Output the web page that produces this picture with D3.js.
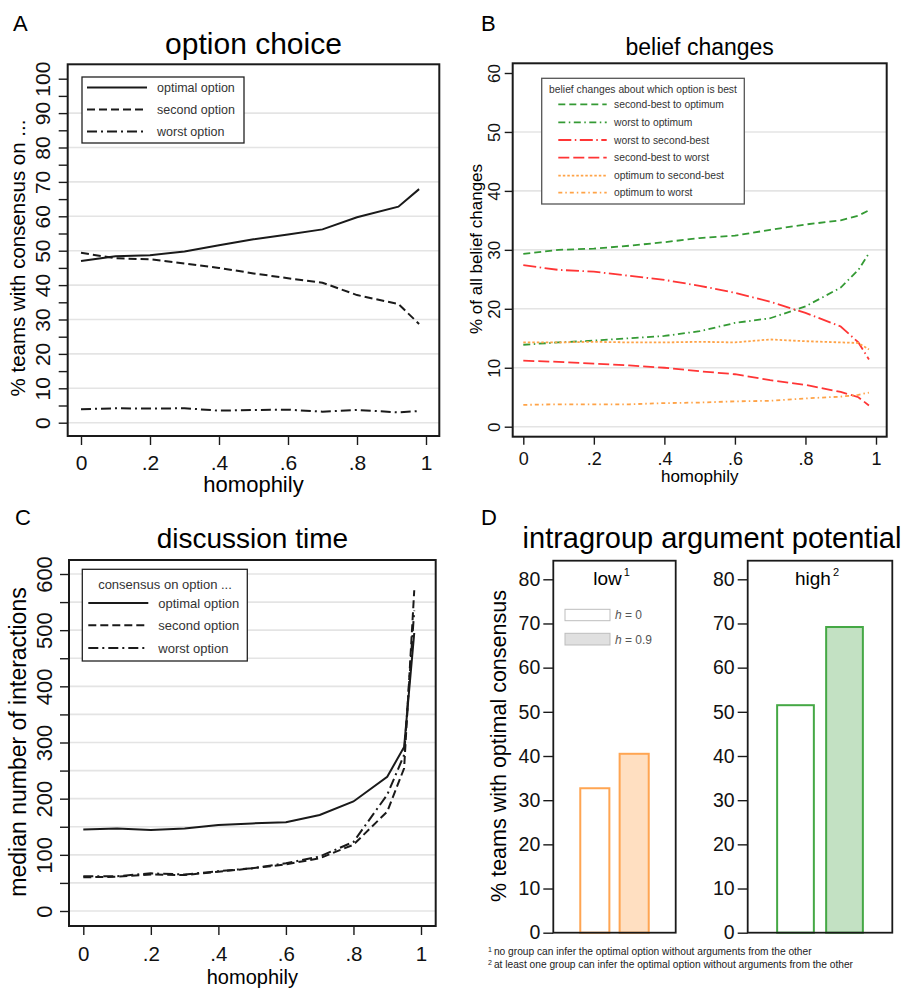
<!DOCTYPE html>
<html><head><meta charset="utf-8">
<script src="https://cdn.jsdelivr.net/npm/d3@7"></script>
<style>body{margin:0;background:#fff} text{font-family:"Liberation Sans",Arial,sans-serif}</style>
</head><body><svg id="c" width="907" height="989"></svg>
<script>
// ---------- data ----------
const xA = [0, .1, .2, .3, .4, .5, .6, .7, .8, .92, .98];
const optimalA = [47.0, 48.4, 48.7, 49.8, 51.6, 53.3, 54.7, 56.2, 59.7, 62.8, 67.9];
const secondA  = [49.4, 47.8, 47.5, 46.3, 45.0, 43.4, 42.0, 40.7, 37.1, 34.5, 28.7];
const worstA   = [3.9, 4.2, 4.1, 4.2, 3.5, 3.7, 3.8, 3.2, 3.7, 3.0, 3.4];

const xB = [0, .1, .2, .3, .4, .5, .6, .7, .8, .9, .95, .98];
const secondToOptimum = [29.3, 30.0, 30.2, 30.7, 31.3, 32.0, 32.4, 33.4, 34.3, 35.0, 35.8, 36.7];
const worstToOptimum  = [13.9, 14.3, 14.6, 15.0, 15.4, 16.2, 17.6, 18.4, 20.4, 23.6, 26.6, 29.4];
const worstToSecond   = [27.4, 26.6, 26.3, 25.6, 24.9, 23.9, 22.7, 21.2, 19.3, 17.0, 14.3, 11.4];
const secondToWorst   = [11.2, 11.0, 10.7, 10.4, 10.0, 9.4, 8.9, 7.9, 7.1, 5.9, 5.0, 3.6];
const optimumToSecond = [14.3, 14.3, 14.4, 14.3, 14.3, 14.4, 14.3, 14.8, 14.5, 14.3, 14.2, 13.1];
const optimumToWorst  = [3.7, 3.8, 3.8, 3.8, 4.0, 4.1, 4.3, 4.4, 4.8, 5.1, 5.4, 5.8];

const xC = [0, .1, .2, .3, .4, .5, .6, .7, .8, .9, .95, .98];
const optimalC = [145, 147, 144, 147, 153, 156, 158, 171, 195, 239, 292, 495];
const secondC  = [60, 61, 65, 64, 70, 76, 83, 94, 118, 177, 254, 571];
const worstC   = [62, 62, 67, 65, 71, 76, 85, 97, 123, 207, 278, 535];

const potentialGroups = ["low", "high"];
const hLevels = ["h = 0", "h = 0.9"];
const lowValues  = [32.7, 40.5];
const highValues = [51.5, 69.2];

const xTickLabels = ["0", ".2", ".4", ".6", ".8", "1"];
const footnotes = ["no group can infer the optimal option without arguments from the other",
                   "at least one group can infer the optimal option without arguments from the other"];

// ---------- helpers ----------
const svg = d3.select("#c");
const FRAME = "#1a1a1a";
const GRID = "#e4e4e4";

function linePanel(o) {
  const g = svg.append("g");
  const x = d3.scaleLinear().domain([0, 1]).range(o.xr);
  const y = d3.scaleLinear().domain(o.yd).range(o.yr);
  g.selectAll(".grid").data(o.grid).enter().append("line")
    .attr("x1", o.f[0]).attr("x2", o.f[2])
    .attr("y1", d => y(d)).attr("y2", d => y(d))
    .attr("stroke", GRID).attr("stroke-width", 1.6);
  const ya = g.append("g").attr("transform", `translate(${o.f[0]},0)`)
    .call(d3.axisLeft(y).tickValues(o.yTicks).tickSize(o.tl)
      .tickFormat(d => o.yLab.includes(d) ? d : ""));
  ya.select(".domain").remove();
  ya.selectAll("line").attr("stroke", FRAME).attr("stroke-width", 1.4);
  ya.selectAll("text").attr("transform", "rotate(-90)")
    .attr("x", 0).attr("y", -o.yGap).attr("dy", 0)
    .attr("text-anchor", "middle").attr("fill", "#111")
    .style("font-size", o.yfs + "px").style("font-family", '"Liberation Sans",Arial,sans-serif');
  const xa = g.append("g").attr("transform", `translate(0,${o.f[3]})`)
    .call(d3.axisBottom(x).tickValues([0, .2, .4, .6, .8, 1]).tickSize(o.tl)
      .tickFormat((d, i) => xTickLabels[i]));
  xa.select(".domain").remove();
  xa.selectAll("line").attr("stroke", FRAME).attr("stroke-width", 1.4);
  xa.selectAll("text").attr("y", o.xGap).attr("dy", 0).attr("fill", "#111")
    .style("font-size", o.xfs + "px").style("font-family", '"Liberation Sans",Arial,sans-serif');
  const line = d3.line().x(d => x(d[0])).y(d => y(d[1]));
  o.series.forEach(s => {
    g.append("path").datum(o.xs.map((v, i) => [v, s.v[i]]))
      .attr("d", line).attr("fill", "none").attr("stroke", s.c)
      .attr("stroke-width", s.w || 2).attr("stroke-dasharray", s.dash || null);
  });
  g.append("rect").attr("x", o.f[0]).attr("y", o.f[1])
    .attr("width", o.f[2] - o.f[0]).attr("height", o.f[3] - o.f[1])
    .attr("fill", "none").attr("stroke", FRAME).attr("stroke-width", 2);
  svg.append("text").attr("x", (o.f[0] + o.f[2]) / 2).attr("y", o.titleY)
    .attr("text-anchor", "middle").style("font-size", o.tfs + "px").text(o.title);
  svg.append("text").attr("x", (o.f[0] + o.f[2]) / 2).attr("y", o.hY)
    .attr("text-anchor", "middle").style("font-size", o.hfs + "px").text("homophily");
  svg.append("text").attr("transform", `translate(${o.ylx},${o.yly}) rotate(-90)`)
    .attr("text-anchor", "middle").style("font-size", o.ylfs + "px").text(o.ylabel);
  svg.append("text").attr("x", o.letter[0]).attr("y", o.letter[1])
    .style("font-size", "22px").text(o.letter[2]);
  return {g, x, y};
}

function legendRow(g, x1, x2, tx, y, s, fs, col) {
  g.append("line").attr("x1", x1).attr("x2", x2).attr("y1", y).attr("y2", y)
    .attr("stroke", s.c).attr("stroke-width", s.w || 2).attr("stroke-dasharray", s.dash || null);
  g.append("text").attr("x", tx).attr("y", y).attr("dy", "0.35em")
    .style("font-size", fs + "px").attr("fill", col).text(s.name);
}

// ---------- Panel A ----------
const seriesA = [
  {name: "optimal option", v: optimalA, c: "#1a1a1a"},
  {name: "second option", v: secondA, c: "#1a1a1a", dash: "8,4"},
  {name: "worst option", v: worstA, c: "#1a1a1a", dash: "10,4,2,4"}
];
linePanel({
  f: [67.7, 64.3, 439.3, 436], xr: [81, 426], yd: [0, 100], yr: [422.7, 78.7],
  grid: d3.range(0, 100, 10), yTicks: d3.range(0, 101, 5), yLab: d3.range(0, 101, 10),
  tl: 9, yGap: 17.5, xGap: 34, yfs: 21, xfs: 21, xs: xA, series: seriesA,
  title: "option choice", titleY: 54, tfs: 30, hY: 492, hfs: 22,
  ylabel: "% teams with consensus on ...", ylx: 25, yly: 258, ylfs: 20.5, letter: [13, 31, "A"]
});
{
  const lg = svg.append("g");
  lg.append("rect").attr("x", 82).attr("y", 77).attr("width", 162).attr("height", 66)
    .attr("fill", "#fff").attr("stroke", "#222").attr("stroke-width", 1.3);
  seriesA.forEach((s, i) => legendRow(lg, 87, 147, 157, 87.5 + i * 22, s, 12.5, "#333"));
}

// ---------- Panel B ----------
const GREEN = "#349a34", RED = "#ff3535", ORANGE = "#ffa347";
const seriesB = [
  {name: "second-best to optimum", v: secondToOptimum, c: GREEN, dash: "7,4", w: 1.8},
  {name: "worst to optimum", v: worstToOptimum, c: GREEN, dash: "7,3.5,1.5,3.5", w: 1.8},
  {name: "worst to second-best", v: worstToSecond, c: RED, dash: "13,3.5,1.5,3.5", w: 1.8},
  {name: "second-best to worst", v: secondToWorst, c: RED, dash: "11,4", w: 1.8},
  {name: "optimum to second-best", v: optimumToSecond, c: ORANGE, dash: "2.5,2", w: 1.8},
  {name: "optimum to worst", v: optimumToWorst, c: ORANGE, dash: "4,3,1.5,3", w: 1.8}
];
linePanel({
  f: [512.7, 63.3, 886.7, 436.7], xr: [523.3, 876], yd: [0, 60], yr: [426.7, 73],
  grid: d3.range(0, 60, 10), yTicks: d3.range(0, 61, 10), yLab: d3.range(0, 61, 10),
  tl: 8, yGap: 12.5, xGap: 28, yfs: 17, xfs: 18, xs: xB, series: seriesB,
  title: "belief changes", titleY: 55, tfs: 23, hY: 482, hfs: 17,
  ylabel: "% of all belief changes", ylx: 482, yly: 249, ylfs: 17, letter: [481, 31, "B"]
});
{
  const lg = svg.append("g");
  lg.append("rect").attr("x", 541.7).attr("y", 78.3).attr("width", 202.6).attr("height", 125.7)
    .attr("fill", "#fff").attr("stroke", "#555").attr("stroke-width", 1.3);
  lg.append("text").attr("x", 643).attr("y", 89).attr("dy", "0.35em").attr("text-anchor", "middle")
    .style("font-size", "10.3px").attr("fill", "#333").text("belief changes about which option is best");
  const ys = [104.3, 122.3, 140, 157.7, 175.7, 192.7];
  seriesB.forEach((s, i) => legendRow(lg, 558.3, 606.7, 614, ys[i], s, 10.3, "#333"));
}

// ---------- Panel C ----------
const seriesC = [
  {name: "optimal option", v: optimalC, c: "#1a1a1a"},
  {name: "second option", v: secondC, c: "#1a1a1a", dash: "8,4"},
  {name: "worst option", v: worstC, c: "#1a1a1a", dash: "10,4,2,4"}
];
linePanel({
  f: [69, 560, 435.7, 926], xr: [83.3, 421], yd: [0, 600], yr: [911, 574],
  grid: d3.range(0, 601, 50), yTicks: d3.range(0, 601, 50), yLab: d3.range(0, 601, 100),
  tl: 9, yGap: 17.5, xGap: 34.5, yfs: 22, xfs: 20.5, xs: xC, series: seriesC,
  title: "discussion time", titleY: 548, tfs: 28, hY: 984, hfs: 20,
  ylabel: "median number of interactions", ylx: 26, yly: 742, ylfs: 23, letter: [15, 525, "C"]
});
{
  const lg = svg.append("g");
  lg.append("rect").attr("x", 82.3).attr("y", 569.3).attr("width", 165).attr("height", 91.7)
    .attr("fill", "#fff").attr("stroke", "#222").attr("stroke-width", 1.3);
  lg.append("text").attr("x", 165).attr("y", 584).attr("dy", "0.35em").attr("text-anchor", "middle")
    .style("font-size", "13px").attr("fill", "#333").text("consensus on option ...");
  const ys = [603, 625.3, 648];
  seriesC.forEach((s, i) => legendRow(lg, 88.3, 148.3, 158.3, ys[i], s, 13, "#333"));
}

// ---------- Panel D ----------
const yD = d3.scaleLinear().domain([0, 80]).range([932.7, 579.3]);
const subpanels = [
  {name: potentialGroups[0], sup: "1", vals: lowValues, f: [553.3, 560.7, 675.7, 932.7],
   stroke: "#ffa552", fill: "#ffdfc1"},
  {name: potentialGroups[1], sup: "2", vals: highValues, f: [747.7, 560.7, 892.3, 932.7],
   stroke: "#45a845", fill: "#c3e1c3"}
];
subpanels.forEach((p, k) => {
  const g = svg.append("g");
  const xb = d3.scaleBand().domain(hLevels).range([p.f[0], p.f[2]])
    .paddingInner(0.21).paddingOuter(k === 0 ? 0.66 : 0.58);
  g.selectAll("rect.bar").data(hLevels).enter().append("rect")
    .attr("x", d => xb(d) + 1).attr("width", xb.bandwidth() - 2)
    .attr("y", (d, i) => yD(p.vals[i])).attr("height", (d, i) => yD(0) - yD(p.vals[i]))
    .attr("fill", (d, i) => i === 0 ? "#fff" : p.fill)
    .attr("stroke", p.stroke).attr("stroke-width", 2);
  const ya = g.append("g").attr("transform", `translate(${p.f[0]},0)`)
    .call(d3.axisLeft(yD).tickValues(d3.range(0, 81, 10)).tickSize(10).tickPadding(3));
  ya.select(".domain").remove();
  ya.selectAll("line").attr("stroke", FRAME).attr("stroke-width", 1.4);
  ya.selectAll("text").attr("fill", "#111").style("font-size", "19.5px")
    .style("font-family", '"Liberation Sans",Arial,sans-serif');
  g.append("rect").attr("x", p.f[0]).attr("y", p.f[1])
    .attr("width", p.f[2] - p.f[0]).attr("height", p.f[3] - p.f[1])
    .attr("fill", "none").attr("stroke", FRAME).attr("stroke-width", 1.8);
  const t = g.append("text").attr("x", (p.f[0] + p.f[2]) / 2 - 3).attr("y", 585)
    .attr("text-anchor", "middle").style("font-size", "19px");
  t.append("tspan").text(p.name);
  t.append("tspan").attr("dy", -9).attr("dx", 2).style("font-size", "11px").text(p.sup);
});
{
  const lg = svg.append("g");
  lg.append("rect").attr("x", 565).attr("y", 609.3).attr("width", 45).attr("height", 11.4)
    .attr("fill", "#fff").attr("stroke", "#bdbdbd").attr("stroke-width", 1);
  lg.append("rect").attr("x", 565).attr("y", 633.3).attr("width", 45).attr("height", 11.7)
    .attr("fill", "#e0e0e0").attr("stroke", "#bdbdbd").attr("stroke-width", 1);
  [615, 639.5].forEach((yy, i) => {
    const t = lg.append("text").attr("x", 615).attr("y", yy).attr("dy", "0.35em")
      .style("font-size", "12px").attr("fill", "#555");
    t.append("tspan").style("font-style", "italic").text("h");
    t.append("tspan").text(hLevels[i].slice(1));
  });
}
svg.append("text").attr("x", 712).attr("y", 548).attr("text-anchor", "middle")
  .style("font-size", "29px").text("intragroup argument potential");
svg.append("text").attr("transform", "translate(506,746) rotate(-90)")
  .attr("text-anchor", "middle").style("font-size", "21.5px").text("% teams with optimal consensus");
svg.append("text").attr("x", 481).attr("y", 525).style("font-size", "22px").text("D");
footnotes.forEach((f, i) => {
  const t = svg.append("text").attr("x", 488).attr("y", 955 + i * 13.3)
    .style("font-size", "10.2px").attr("fill", "#222");
  t.append("tspan").attr("dy", -3).style("font-size", "7px").text(String(i + 1));
  t.append("tspan").attr("dy", 3).attr("dx", 2).text(f);
});
</script></body></html>
